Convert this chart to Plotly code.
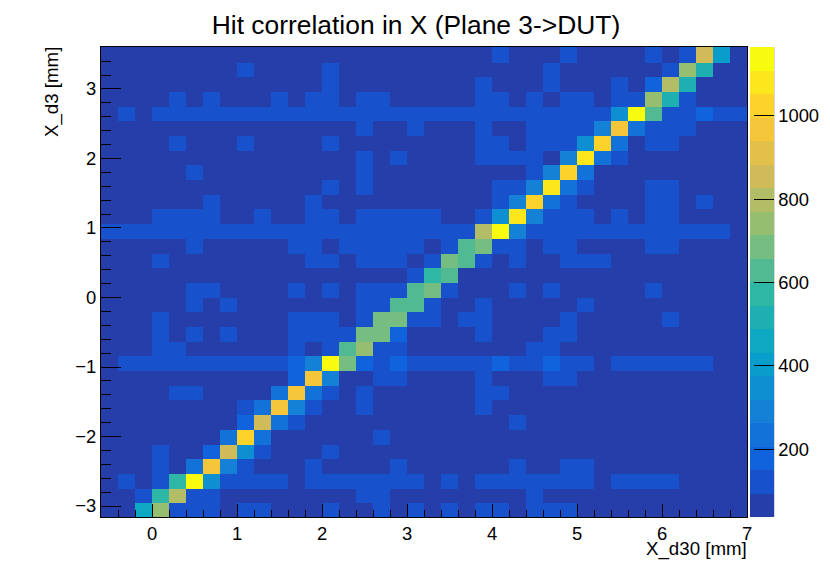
import numpy as np
import plotly.graph_objects as go

title = "Hit correlation in X (Plane 3-&gt;DUT)"
x_label = "X_d30 [mm]"
y_label = "X_d3 [mm]"
z_ticks = [200, 400, 600, 800, 1000]
z_low, z_high = 37, 1165
n_levels = 20
x_start, x_bin = -0.6, 0.2
y_low, y_high = -3.158, 3.604
y_first_edge, y_bin = -2.961, 0.2114

# rows listed from the top of the plot to the bottom, 38 columns each
counts = [
    [50,50,50,50,50,50,50,50,50,50, 50,50,50,50,50,50,50,50,50,50, 50,50,50,120,50,50,50,120,50,50, 50,50,120,50,120,870,430,50],
    [50,50,50,50,50,50,50,50,120,50, 50,50,50,120,50,50,50,50,50,50, 50,50,50,50,50,50,120,50,50,50, 50,50,50,120,760,510,50,50],
    [50,50,50,50,50,50,50,50,50,50, 50,50,50,120,50,50,50,50,50,50, 50,50,120,50,50,50,120,50,50,50, 120,50,200,820,510,50,50,50],
    [50,50,50,50,120,50,120,50,50,50, 120,50,120,120,50,120,120,50,50,50, 50,50,120,120,50,120,50,120,120,50, 120,120,760,510,120,50,50,50],
    [50,120,50,120,120,120,120,120,120,120, 120,120,120,120,120,120,120,120,120,120, 120,120,120,120,120,120,120,120,120,120, 370,1150,620,120,120,170,120,120],
    [50,50,50,50,50,50,50,50,50,50, 50,50,50,50,50,120,50,50,120,50, 50,50,120,50,50,120,120,120,120,290, 950,240,120,120,120,50,50,50],
    [50,50,50,50,120,50,50,50,120,50, 50,50,50,120,50,50,50,50,50,50, 50,50,120,120,50,120,120,120,340,1000, 250,50,120,120,50,50,50,50],
    [50,50,50,50,50,50,50,50,50,50, 50,50,50,50,50,120,50,120,50,50, 50,50,120,120,120,120,50,290,1060,240, 120,50,50,50,50,50,50,50],
    [50,50,50,50,50,120,50,50,50,50, 50,50,50,50,50,120,50,50,50,50, 50,50,50,50,50,120,270,1000,240,50, 50,50,50,50,50,50,50,50],
    [50,50,50,50,50,50,50,50,50,50, 50,50,50,120,50,120,50,50,50,50, 50,50,50,120,120,290,1060,250,120,50, 50,50,120,120,50,50,50,50],
    [50,50,50,50,50,50,120,50,50,50, 50,50,120,50,50,50,50,50,50,50, 50,50,50,120,280,1000,250,120,50,50, 50,50,120,120,50,120,50,50],
    [50,50,50,120,120,120,120,50,50,120, 50,50,120,120,50,120,120,120,120,120, 50,50,120,370,1060,270,120,120,120,50, 120,50,120,120,50,50,50,50],
    [120,120,120,120,120,120,120,120,120,120, 120,120,120,120,120,120,120,120,120,120, 120,120,820,1150,310,120,120,120,120,120, 120,120,120,120,120,120,120,50],
    [50,50,50,50,50,120,50,50,50,50, 50,120,120,50,120,120,120,120,120,50, 120,620,690,120,120,50,120,120,50,50, 50,50,120,120,50,50,50,50],
    [50,50,50,120,50,50,50,50,50,50, 50,50,120,120,50,120,120,120,50,120, 690,620,120,50,120,50,50,120,120,120, 50,50,50,50,50,50,50,50],
    [50,50,50,50,50,50,50,50,50,50, 50,50,50,50,50,50,50,50,120,560, 620,50,50,50,50,50,50,50,50,50, 50,50,50,50,50,50,50,50],
    [50,50,50,50,50,120,120,50,50,50, 50,120,50,120,50,120,120,120,620,690, 120,50,50,50,120,50,120,50,50,50, 50,50,120,50,50,50,50,50],
    [50,50,50,50,50,120,50,120,50,50, 50,50,50,50,50,120,120,630,630,120, 50,50,120,50,50,50,50,50,120,50, 50,50,50,50,50,50,50,50],
    [50,50,50,120,50,50,50,50,50,50, 50,120,120,120,50,120,690,690,120,120, 50,120,120,50,50,50,50,120,50,50, 50,50,50,120,50,50,50,50],
    [50,50,50,120,50,120,50,120,50,50, 50,120,120,120,120,690,690,170,50,50, 50,50,120,50,50,50,120,120,50,50, 50,50,50,50,50,50,50,50],
    [50,50,50,120,120,50,50,50,50,50, 50,120,50,120,620,760,120,120,50,50, 50,50,50,50,50,120,120,50,50,50, 50,50,50,50,50,50,50,50],
    [50,120,120,120,120,120,120,120,120,120, 120,170,290,1150,690,170,120,170,120,120, 120,120,120,170,120,120,170,120,120,50, 120,120,120,120,120,120,50,50],
    [50,50,50,50,50,50,50,50,50,50, 50,170,950,310,50,50,120,120,50,50, 50,50,120,50,50,50,120,120,50,50, 50,50,50,50,50,50,50,50],
    [50,50,50,50,120,120,50,50,50,50, 240,950,240,120,50,120,50,50,50,50, 50,50,120,120,50,50,50,50,50,50, 50,50,50,50,50,50,50,50],
    [50,50,50,50,50,50,50,50,120,240, 950,310,120,50,50,120,50,50,50,50, 50,50,120,50,50,50,50,50,50,50, 50,50,50,50,50,50,50,50],
    [50,50,50,50,50,50,50,50,180,880, 260,120,50,50,50,50,50,50,50,50, 50,50,50,50,120,50,50,50,50,50, 50,50,50,50,50,50,50,50],
    [50,50,50,50,50,50,50,230,1000,240, 50,50,50,50,50,50,120,50,50,50, 50,50,50,50,50,50,50,50,50,50, 50,50,50,50,50,50,50,50],
    [50,50,50,120,50,50,180,880,320,120, 50,50,50,120,50,50,50,50,50,50, 50,50,50,50,50,50,50,50,50,50, 50,50,50,50,50,50,50,50],
    [50,50,50,120,50,260,950,310,120,50, 50,50,120,50,50,50,50,120,50,50, 50,50,50,50,120,50,50,120,120,50, 50,50,50,50,50,50,50,50],
    [50,120,50,120,560,1110,320,120,120,120, 120,50,120,120,120,120,120,120,120,50, 120,50,120,120,120,120,120,120,120,50, 120,120,120,120,50,50,50,50],
    [50,50,120,560,820,120,120,50,50,50, 50,50,50,50,50,120,120,50,50,50, 50,50,50,50,50,120,50,50,50,50, 50,50,50,50,50,50,50,50],
    [50,50,480,750,120,120,120,50,120,120, 50,50,50,120,50,50,120,50,120,50, 120,50,120,120,50,120,120,120,50,50, 50,50,50,50,50,50,50,50],
]

# ROOT "bird" palette stops
stops = [0, .125, .25, .375, .5, .625, .75, .875, 1]
red = [0.2082, 0.0592, 0.0780, 0.0232, 0.1802, 0.5301, 0.8186, 0.9956, 0.9764]
green = [0.1664, 0.3599, 0.5041, 0.6419, 0.7178, 0.7492, 0.7328, 0.7862, 0.9832]
blue = [0.5293, 0.8684, 0.8385, 0.7914, 0.6425, 0.4662, 0.3499, 0.1968, 0.0539]

scale = []
for k in range(n_levels):
    t = (k + 1) / n_levels
    c = "rgb(%d,%d,%d)" % tuple(round(255 * np.interp(t, stops, ch)) for ch in (red, green, blue))
    scale += [[k / n_levels, c], [(k + 1) / n_levels, c]]

z = np.array(counts[::-1])
n_rows, n_cols = z.shape
x_edges = x_start + x_bin * np.arange(n_cols + 1)
y_edges = np.r_[y_low, y_first_edge + y_bin * np.arange(n_rows - 1), y_high]

FONT = "Liberation Sans"
TICK = 18.4
LABEL = 18.7
fig = go.Figure(go.Heatmap(
    x=x_edges, y=y_edges, z=z, zmin=z_low, zmax=z_high,
    colorscale=scale, zsmooth=False,
    colorbar=dict(
        x=1.0046, xanchor="left", xref="paper", y=0, yanchor="bottom", len=1,
        thickness=24, thicknessmode="pixels", lenmode="fraction", xpad=0, ypad=0,
        outlinewidth=0, borderwidth=0,
        tickmode="array", tickvals=z_ticks, ticks="inside", ticklen=20, tickcolor="black",
        tickfont=dict(family=FONT, size=TICK, color="black"),
    ),
))
axis_common = dict(
    showgrid=False, zeroline=False, showline=True, mirror=True,
    linecolor="black", linewidth=1, ticks="inside", tickcolor="black",
    tickfont=dict(family=FONT, size=TICK, color="black"),
)
fig.update_xaxes(range=[-0.6, 7], tickmode="linear", tick0=0, dtick=1, ticklen=13,
                 minor=dict(ticks="inside", ticklen=7, dtick=0.2, tick0=0, tickcolor="black", showgrid=False),
                 **axis_common)
fig.update_yaxes(range=[y_low, y_high], tickmode="linear", tick0=0, dtick=1, ticklen=20,
                 minor=dict(ticks="inside", ticklen=10, dtick=0.2, tick0=0, tickcolor="black", showgrid=False),
                 **axis_common)
fig.update_layout(
    width=830, height=576, autosize=False,
    margin=dict(l=101, r=83, t=47, b=59, pad=0, autoexpand=False),
    paper_bgcolor="white", plot_bgcolor="white",
    title=dict(text=title, x=416/830, xanchor="center", y=1-25/576, yanchor="middle",
               font=dict(family=FONT, size=26.4, color="black")),
    shapes=[dict(type="line", xref="paper", yref="paper", x0=1.0413, x1=1.0413, y0=0, y1=1,
                 line=dict(color="#222", width=1))],
    annotations=[
        dict(text=x_label, xref="paper", yref="paper", x=1, y=0, xanchor="right", yanchor="middle",
             xshift=2, yshift=-32, showarrow=False, font=dict(family=FONT, size=LABEL, color="black")),
        dict(text=y_label, xref="paper", yref="paper", x=0, y=1, xanchor="right", yanchor="top",
             xshift=-36, yshift=2, textangle=-90, showarrow=False, font=dict(family=FONT, size=LABEL, color="black")),
    ],
)
fig.write_html("out.html", config=dict(displayModeBar=False),
               post_script="document.body.style.margin='0';")
